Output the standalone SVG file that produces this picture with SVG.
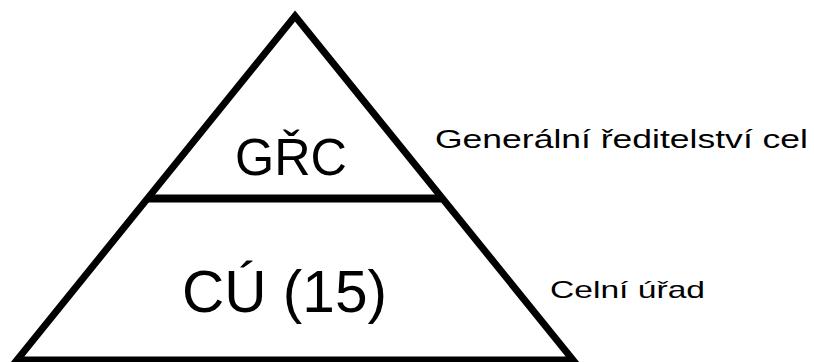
<svg xmlns="http://www.w3.org/2000/svg" width="814" height="362" viewBox="0 0 814 362">
<style>
.ln{stroke:#000;stroke-width:7;fill:none;stroke-linejoin:miter}
.t{font-family:"Liberation Sans",Arial,sans-serif;fill:#000}
</style>
<rect width="814" height="362" fill="#fff"/>
<g id="pyramid">
<polygon class="ln" points="295,16 573,360 17,360"/>
<line class="ln" x1="147" y1="198.5" x2="443" y2="198.5" style="stroke-width:8"/>
</g>
<g id="grc">
<text class="t" x="291" y="175" font-size="52" text-anchor="middle" textLength="112" lengthAdjust="spacingAndGlyphs">GŘC</text>
</g>
<g id="cu">
<text class="t" x="284.5" y="312" font-size="60" text-anchor="middle" textLength="205" lengthAdjust="spacingAndGlyphs">CÚ (15)</text>
</g>
<g id="label-grc">
<text class="t" x="435" y="148" font-size="25" textLength="373" lengthAdjust="spacingAndGlyphs">Generální ředitelství cel</text>
</g>
<g id="label-cu">
<text class="t" x="550" y="298" font-size="24" textLength="155" lengthAdjust="spacingAndGlyphs">Celní úřad</text>
</g>
</svg>
